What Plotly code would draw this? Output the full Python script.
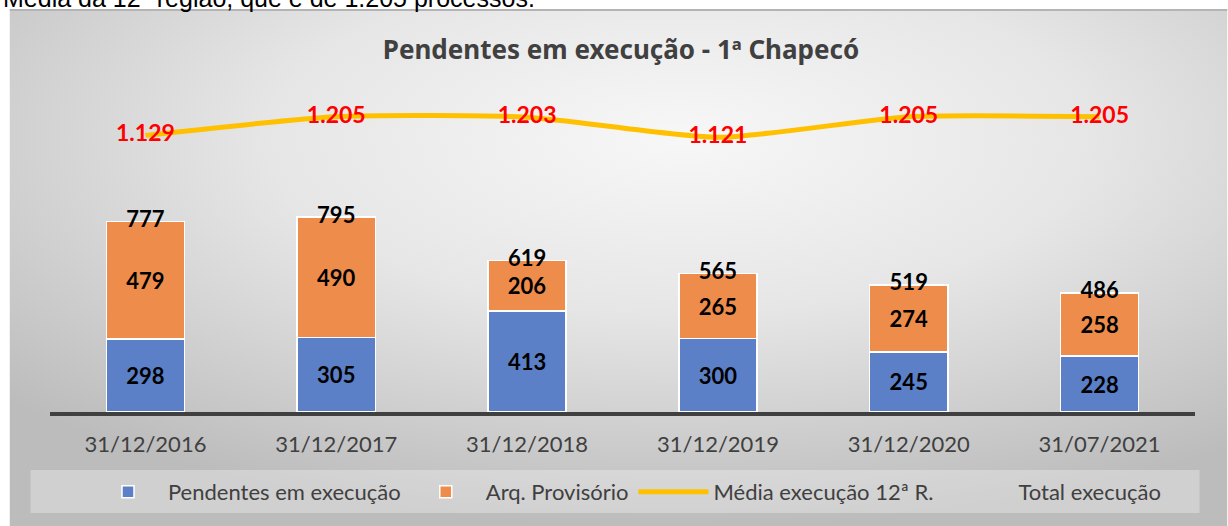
import base64
import plotly.graph_objects as go

categorias = ["31/12/2016", "31/12/2017", "31/12/2018", "31/12/2019", "31/12/2020", "31/07/2021"]
pendentes = [298, 305, 413, 300, 245, 228]
arq_provisorio = [479, 490, 206, 265, 274, 258]
total_execucao = [777, 795, 619, 565, 519, 486]
media_12r = [1129, 1205, 1203, 1121, 1205, 1205]

W, H = 1228, 526
BASE_Y = 412
ML = 49.5
MR = 1228 - 1195.5
MT = 70
MB = H - BASE_Y
PW, PH = W - ML - MR, H - MT - MB


def px_x(px):
    return (px - ML) / PW


def px_y(py):
    return (BASE_Y - py) / PH


svg = ('<svg xmlns="http://www.w3.org/2000/svg" width="1219" height="517" viewBox="0 0 1219 517" preserveAspectRatio="none">'
       '<defs><radialGradient id="g" cx="55%" cy="25%" r="75%">'
       '<stop offset="0" stop-color="#f7f7f7"/><stop offset="0.45" stop-color="#e6e6e6"/>'
       '<stop offset="1" stop-color="#bcbcbc"/></radialGradient></defs>'
       '<rect width="1219" height="517" fill="url(#g)"/>'
       '<rect width="1219" height="2" fill="#b4b4b4"/></svg>')
svg_uri = "data:image/svg+xml;base64," + base64.b64encode(svg.encode()).decode()

label_font = dict(family="Lato", size=22, color="#000000")

fig = go.Figure()
fig.add_trace(go.Bar(
    x=categorias, y=pendentes, name="Pendentes em execução",
    marker=dict(color="#5B80C8", line=dict(color="#ffffff", width=1.5)),
    texttemplate="<b>%{y}</b>", textposition="inside",
    insidetextanchor="middle", textangle=0, constraintext="none",
    textfont=label_font,
))
fig.add_trace(go.Bar(
    x=categorias, y=arq_provisorio, name="Arq. Provisório",
    marker=dict(color="#EE8C4C", line=dict(color="#ffffff", width=1.5)),
    texttemplate="<b>%{y}</b>", textposition="inside",
    insidetextanchor="middle", textangle=0, constraintext="none",
    textfont=label_font,
))
fig.add_trace(go.Scatter(
    x=categorias, y=media_12r, name="Média execução 12ª R.",
    mode="lines+text", line=dict(color="#FFC000", width=5, shape="spline", smoothing=0.6),
    texttemplate="<b>%{y:,.0f}</b>", textposition="middle center",
    textfont=dict(family="Lato", size=23, color="#FF0000"),
))
fig.add_trace(go.Scatter(
    x=categorias, y=total_execucao, name="Total execução",
    mode="markers+text", marker=dict(color="rgba(0,0,0,0)", size=1),
    texttemplate="<b>%{y}</b>", textposition="middle center",
    textfont=label_font,
))

fig.update_layout(
    width=W, height=H,
    margin=dict(l=ML, r=MR, t=MT, b=MB, pad=0),
    paper_bgcolor="#ffffff", plot_bgcolor="rgba(0,0,0,0)",
    separators=",.",
    barmode="stack", bargap=0.59,
    font=dict(family="Lato", color="#404040"),
    title=dict(text="<b>Pendentes em execução - 1ª Chapecó</b>", x=621 / W, xref="container",
               xanchor="center", y=1 - 50 / H, yref="container", yanchor="middle",
               font=dict(family="Noto Sans", size=26, color="#404040")),
    xaxis=dict(showline=True, linecolor="#404040", linewidth=4, showgrid=False,
               ticks="outside", ticklen=10, tickcolor="rgba(0,0,0,0)",
               tickfont=dict(family="Lato", size=22, color="#404040")),
    yaxis=dict(visible=False, range=[0, PH / 0.245]),
    legend=dict(orientation="h", x=px_x(627), xanchor="center", y=px_y(492), yanchor="middle",
                bgcolor="rgba(0,0,0,0)", font=dict(family="Lato", size=22, color="#404040"),
                traceorder="normal", itemwidth=70),
    showlegend=True,
    images=[dict(source=svg_uri, xref="paper", yref="paper",
                 x=px_x(9), y=px_y(9),
                 sizex=(1228 - 9) / PW, sizey=(526 - 9) / PH,
                 sizing="stretch", xanchor="left", yanchor="top", layer="below")],
    shapes=[dict(type="rect", xref="paper", yref="paper",
                 x0=px_x(30), x1=px_x(1200),
                 y0=px_y(470), y1=px_y(513),
                 fillcolor="rgba(255,255,255,0.3)", line=dict(width=0), layer="below")],
    annotations=[dict(text="Média da 12ª região, que é de 1.205 processos.", xref="paper", yref="paper",
                      x=px_x(0), y=px_y(14), xanchor="left", yanchor="bottom",
                      showarrow=False, font=dict(family="Liberation Sans", size=25, color="#000000"))],
)

fig.write_html("out.html", config={"displayModeBar": False},
               post_script="document.body.style.margin='0';")
